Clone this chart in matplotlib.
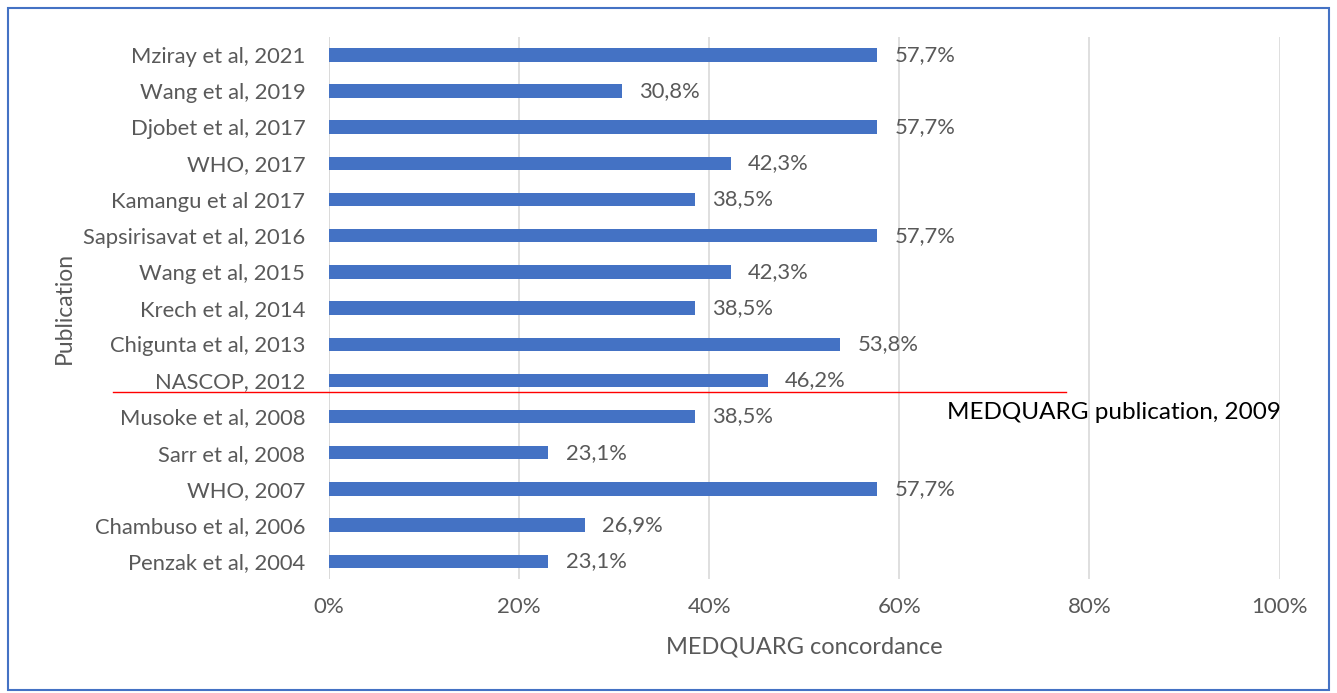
import matplotlib
matplotlib.use("Agg")
import matplotlib.pyplot as plt
from matplotlib.patches import Rectangle
from matplotlib.lines import Line2D

publications = ["Mziray et al, 2021", "Wang et al, 2019", "Djobet et al, 2017", "WHO, 2017",
                "Kamangu et al 2017", "Sapsirisavat et al, 2016", "Wang et al, 2015",
                "Krech et al, 2014", "Chigunta et al, 2013", "NASCOP, 2012",
                "Musoke et al, 2008", "Sarr et al, 2008", "WHO, 2007",
                "Chambuso et al, 2006", "Penzak et al, 2004"]
concordance = [57.7, 30.8, 57.7, 42.3, 38.5, 57.7, 42.3, 38.5, 53.8, 46.2,
               38.5, 23.1, 57.7, 26.9, 23.1]
value_labels = ["57,7%", "30,8%", "57,7%", "42,3%", "38,5%", "57,7%", "42,3%", "38,5%",
                "53,8%", "46,2%", "38,5%", "23,1%", "57,7%", "26,9%", "23,1%"]
xticks = [0, 20, 40, 60, 80, 100]
xtick_labels = ["0%", "20%", "40%", "60%", "80%", "100%"]

plt.rcParams['font.family'] = ['Lato', 'DejaVu Sans']
gray = "#595959"

fig = plt.figure(figsize=(13.37, 6.93), dpi=100)
ax = fig.add_axes([0.246, 0.164, 0.711, 0.783])

n = len(publications)
ypos = list(range(n - 1, -1, -1))
ax.barh(ypos, concordance, height=0.37, color="#4472C4", zorder=3)
for y, v, lab in zip(ypos, concordance, value_labels):
    ax.text(v + 1.8, y, lab, va="center", ha="left", fontsize=15.8, color=gray)

ax.set_xlim(0, 100)
ax.set_ylim(-0.5, n - 0.5)
ax.set_xticks(xticks)
ax.set_xticklabels(xtick_labels, fontsize=16, color=gray)
ax.set_yticks(ypos)
ax.set_yticklabels(publications, fontsize=15.8, color=gray)
ax.tick_params(axis="both", length=0)
ax.tick_params(axis="x", pad=13)
ax.tick_params(axis="y", pad=17)
ax.grid(axis="x", color="#D9D9D9", linewidth=1.2, zorder=0)
for s in ax.spines.values():
    s.set_visible(False)
ax.axvline(0, color="#D9D9D9", linewidth=1.2, zorder=2)

ax.set_xlabel("MEDQUARG concordance", fontsize=17, color=gray, labelpad=14)
ax.set_ylabel("Publication", fontsize=16.5, color=gray, labelpad=6)

# red separation line (between NASCOP 2012 and Musoke 2008)
ax.add_line(Line2D([-22.7, 77.5], [4.67, 4.67], color="#FF0000", linewidth=1.0, clip_on=False, zorder=4))
ax.text(65.0, 4.1, "MEDQUARG publication, 2009", fontsize=17.5, color="black", va="center", ha="left")

fig.patches.append(Rectangle((0.006, 0.004), 0.988, 0.984, transform=fig.transFigure,
                             fill=False, edgecolor="#4472C4", linewidth=1.5))

fig.savefig("out.png", dpi=100)
